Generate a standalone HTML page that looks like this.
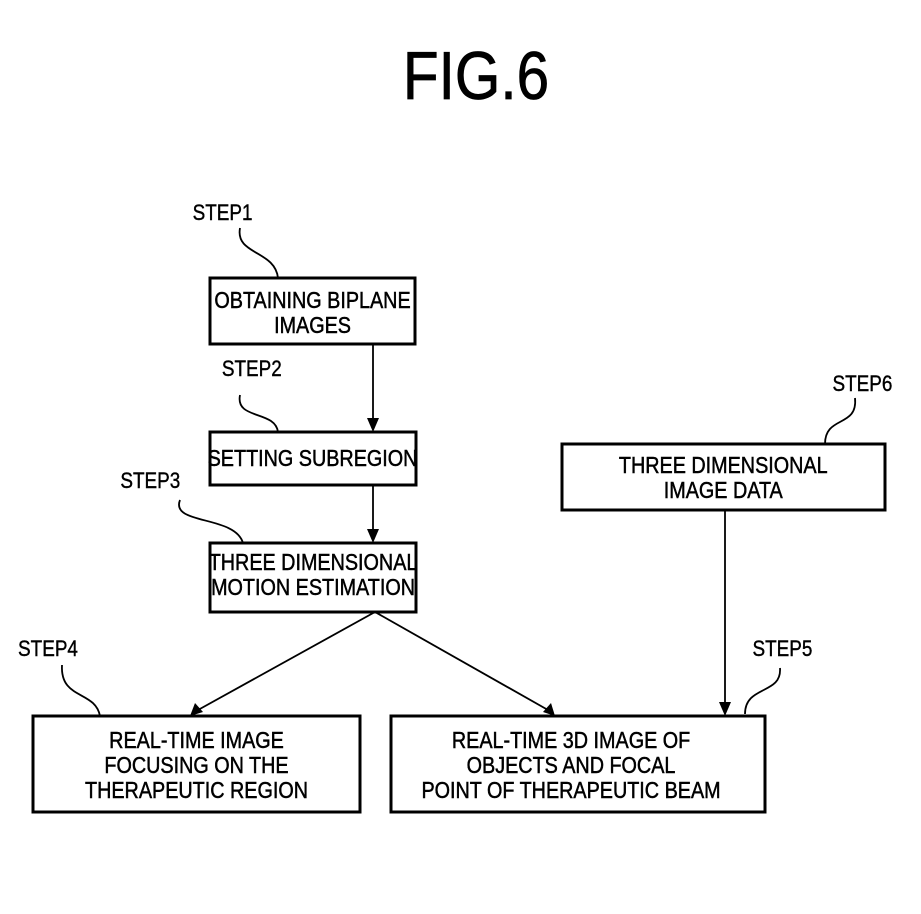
<!DOCTYPE html>
<html><head><style>
body{margin:0;background:#fff;}
svg text{font-family:"Liberation Sans",sans-serif;fill:#000;}
</style></head><body>
<svg width="921" height="909" viewBox="0 0 921 909" xmlns="http://www.w3.org/2000/svg">
<text x="476" y="99" font-size="68" text-anchor="middle" stroke="#000" stroke-width="0.8" transform="translate(476,0) scale(0.86,1) translate(-476,0)">FIG.6</text>
<g fill="#fff" stroke="#000" stroke-width="3">
<rect x="210" y="278" width="205" height="66"/>
<rect x="210" y="432" width="206" height="53"/>
<rect x="210" y="543" width="206" height="69"/>
<rect x="33" y="716" width="327" height="96"/>
<rect x="391" y="716" width="374" height="96"/>
<rect x="562" y="444" width="323" height="66"/>
</g>
<g stroke="#000" stroke-width="1.8" fill="none">
<line x1="373" y1="344" x2="373" y2="420"/>
<line x1="373" y1="485" x2="373" y2="531"/>
<line x1="375" y1="612" x2="198" y2="710"/>
<line x1="375" y1="612" x2="548" y2="710"/>
<line x1="725" y1="510" x2="725" y2="704"/>
<path d="M240,228 C235,255 275,250 278,278"/>
<path d="M240,395 C235,420 275,410 278,432"/>
<path d="M180,500 C170,525 235,515 243,543"/>
<path d="M62,665 C60,700 95,690 100,716"/>
<path d="M780,668 C782,695 745,685 745,714"/>
<path d="M855,398 C858,428 825,415 825,444"/>
</g>
<g fill="#000">
<path d="M367,418 L379,418 L373,432 Z"/>
<path d="M367,529 L379,529 L373,543 Z"/>
<path d="M719,702 L731,702 L725,716 Z"/>
<path d="M190,716 L195,703 L203,712 Z"/>
<path d="M555,716 L543,712 L551,703 Z"/>
</g>
<g font-size="23" text-anchor="middle" stroke="#000" stroke-width="0.5">
<g transform="scale(0.86,1)">
<text x="363.4" y="308">OBTAINING BIPLANE</text>
<text x="363.4" y="333">IMAGES</text>
<text x="363.4" y="466">SETTING SUBREGION</text>
<text x="364" y="570">THREE DIMENSIONAL</text>
<text x="364" y="595">MOTION ESTIMATION</text>
<text x="228.5" y="748">REAL-TIME IMAGE</text>
<text x="228.5" y="773">FOCUSING ON THE</text>
<text x="228.5" y="798">THERAPEUTIC REGION</text>
<text x="664" y="748">REAL-TIME 3D IMAGE OF</text>
<text x="664" y="773">OBJECTS AND FOCAL</text>
<text x="664" y="798">POINT OF THERAPEUTIC BEAM</text>
<text x="841" y="473">THREE DIMENSIONAL</text>
<text x="841" y="498">IMAGE DATA</text>
</g>
</g>
<g font-size="22" stroke="#000" stroke-width="0.4" transform="scale(0.86,1)">
<text x="224" y="220">STEP1</text>
<text x="258" y="376">STEP2</text>
<text x="140" y="488">STEP3</text>
<text x="21" y="656">STEP4</text>
<text x="875" y="656">STEP5</text>
<text x="968" y="391">STEP6</text>
</g>
</svg>
</body></html>
